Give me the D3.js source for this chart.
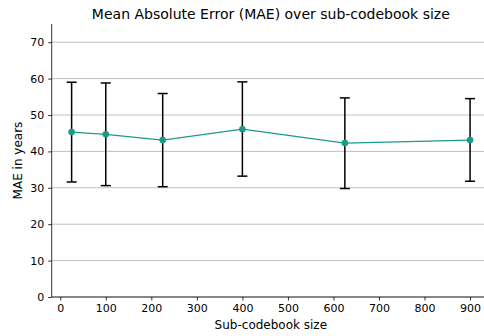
<!DOCTYPE html>
<html><head><meta charset="utf-8">
<script src="https://cdn.jsdelivr.net/npm/d3@7"></script>
<style>body{margin:0;background:#fff}svg{display:block}text{font-family:"DejaVu Sans",sans-serif;fill:#000}</style>
</head><body><svg width="484" height="336"></svg>
<script>
const sizes = [25, 100, 225, 400, 625, 900];
const mae = [45.3, 44.7, 43.1, 46.1, 42.3, 43.1];
const upper = [59.0, 58.8, 55.9, 59.1, 54.7, 54.5];
const lower = [31.6, 30.6, 30.3, 33.2, 29.8, 31.8];
const xTicks = [0,100,200,300,400,500,600,700,800,900];
const yTicks = [0,10,20,30,40,50,60,70];

const svg = d3.select("svg");
const L = 51.7, R = 490, T = 24, B = 297;
const x = d3.scaleLinear().domain([-18.75, 943.75]).range([L, R]);
const y = d3.scaleLinear().domain([0, 75]).range([B, T]);

// grid
svg.append("g").selectAll("line").data(yTicks).join("line")
  .attr("x1", L).attr("x2", R).attr("y1", d=>y(d)).attr("y2", d=>y(d))
  .attr("stroke", "#b0b0b0").attr("stroke-width", 0.8);

const xa = svg.append("g").attr("transform", `translate(0,${B})`)
  .call(d3.axisBottom(x).tickValues(xTicks).tickSize(3.5).tickPadding(3.5));
const ya = svg.append("g").attr("transform", `translate(${L},0)`)
  .call(d3.axisLeft(y).tickValues(yTicks).tickSize(3.5).tickPadding(4));
[xa, ya].forEach(a => {
  a.selectAll("text").style("font-size", "11px").style("font-family", "DejaVu Sans");
  a.selectAll("line").attr("stroke", "#000").attr("stroke-width", 0.8);
  a.select(".domain").attr("stroke", "#000").attr("stroke-width", 0.8);
});
xa.select(".domain").attr("d", `M${L},0H${R}`);
ya.select(".domain").attr("d", `M0,${B}V${T}`);

// error bars
const eb = svg.append("g").attr("stroke", "#000").attr("stroke-width", 1.5);
sizes.forEach((s, i) => {
  const cx = x(s);
  eb.append("line").attr("x1", cx).attr("x2", cx).attr("y1", y(upper[i])).attr("y2", y(lower[i]));
  eb.append("line").attr("x1", cx-5).attr("x2", cx+5).attr("y1", y(upper[i])).attr("y2", y(upper[i]));
  eb.append("line").attr("x1", cx-5).attr("x2", cx+5).attr("y1", y(lower[i])).attr("y2", y(lower[i]));
});

const col = "#1a9a88";
svg.append("path").datum(sizes.map((s,i)=>[s, mae[i]]))
  .attr("d", d3.line().x(d=>x(d[0])).y(d=>y(d[1])))
  .attr("fill", "none").attr("stroke", col).attr("stroke-width", 1.3);
svg.append("g").selectAll("circle").data(sizes).join("circle")
  .attr("cx", d=>x(d)).attr("cy", (d,i)=>y(mae[i])).attr("r", 3.3).attr("fill", col);

svg.append("text").attr("x", (L+R)/2).attr("y", 19).attr("text-anchor", "middle")
  .style("font-size", "14px").text("Mean Absolute Error (MAE) over sub-codebook size");
svg.append("text").attr("x", (L+R)/2).attr("y", 329).attr("text-anchor", "middle")
  .style("font-size", "12px").text("Sub-codebook size");
svg.append("text").attr("transform", `translate(22,${(T+B)/2}) rotate(-90)`).attr("text-anchor", "middle")
  .style("font-size", "12px").text("MAE in years");
</script></body></html>
